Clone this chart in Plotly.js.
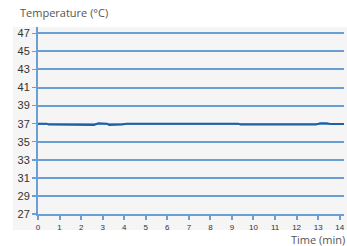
<!DOCTYPE html>
<html><head><script src="https://cdn.plot.ly/plotly-3.0.1.min.js"></script>
<style>body{margin:0;background:#fff}</style></head>
<body><div id="c" style="width:347px;height:246px"></div>
<script>
const timeMin = [0, 0.4, 0.5, 1.0, 1.5, 2.0, 2.6, 2.8, 3.0, 3.2, 3.3, 3.6, 3.9, 4.1, 5, 6, 7, 8, 9, 9.3, 9.4, 10, 11, 12, 12.9, 13.1, 13.4, 13.6, 14, 14.2];
const tempC   = [37.0, 37.0, 36.9, 36.9, 36.9, 36.85, 36.85, 37.05, 37.05, 37.0, 36.85, 36.85, 36.9, 37.0, 37.0, 37.0, 37.0, 37.0, 37.0, 37.0, 36.9, 36.9, 36.9, 36.9, 36.9, 37.05, 37.05, 36.95, 36.95, 36.95];
const yTicks = [27, 29, 31, 33, 35, 37, 39, 41, 43, 45, 47];
const xTicks = [0,1,2,3,4,5,6,7,8,9,10,11,12,13,14];
const blue = '#6a9fd6';
Plotly.newPlot('c', [{
  x: timeMin, y: tempC, type: 'scatter', mode: 'lines',
  line: {color: '#1f5fa8', width: 2}, hoverinfo: 'skip'
}], {
  width: 347, height: 246,
  margin: {l: 38, r: 3, t: 27, b: 32},
  paper_bgcolor: '#ffffff', plot_bgcolor: 'rgba(0,0,0,0)',
  showlegend: false,
  shapes: [{type: 'rect', xref: 'paper', yref: 'paper', x0: -0.082, x1: 1.01, y0: -0.086, y1: 1, fillcolor: '#f5f5f5', line: {width: 0}, layer: 'below'}],
  xaxis: {range: [0, 14.2], tickvals: xTicks, ticktext: xTicks.map(String), showgrid: false, zeroline: false,
    showline: true, linecolor: blue, linewidth: 2, ticks: 'outside', ticklen: 4, tickcolor: blue, tickwidth: 2,
    tickfont: {family: 'Liberation Sans, Arial', size: 8, color: '#333'},
    title: {text: ''}},
  yaxis: {range: [27, 47.7], tickvals: yTicks, ticktext: yTicks.map(String), showgrid: true, gridcolor: blue, gridwidth: 2,
    zeroline: false, showline: true, linecolor: blue, linewidth: 2, ticks: 'outside', ticklen: 4, tickcolor: blue, tickwidth: 1.5,
    tickfont: {family: 'Liberation Sans, Arial', size: 11, color: '#333'}},
  annotations: [
    {text: 'Temperature (°C)', xref: 'paper', yref: 'paper', x: -0.066, y: 1.075, xanchor: 'left', yanchor: 'middle', showarrow: false,
     font: {family: 'Open Sans, Lato', size: 11, color: '#555'}},
    {text: 'Time (min)', xref: 'paper', yref: 'paper', x: 1.01, y: -0.135, xanchor: 'right', yanchor: 'middle', showarrow: false,
     font: {family: 'Open Sans, Lato', size: 11, color: '#555'}}
  ]
}, {displayModeBar: false, staticPlot: true});
</script></body></html>
